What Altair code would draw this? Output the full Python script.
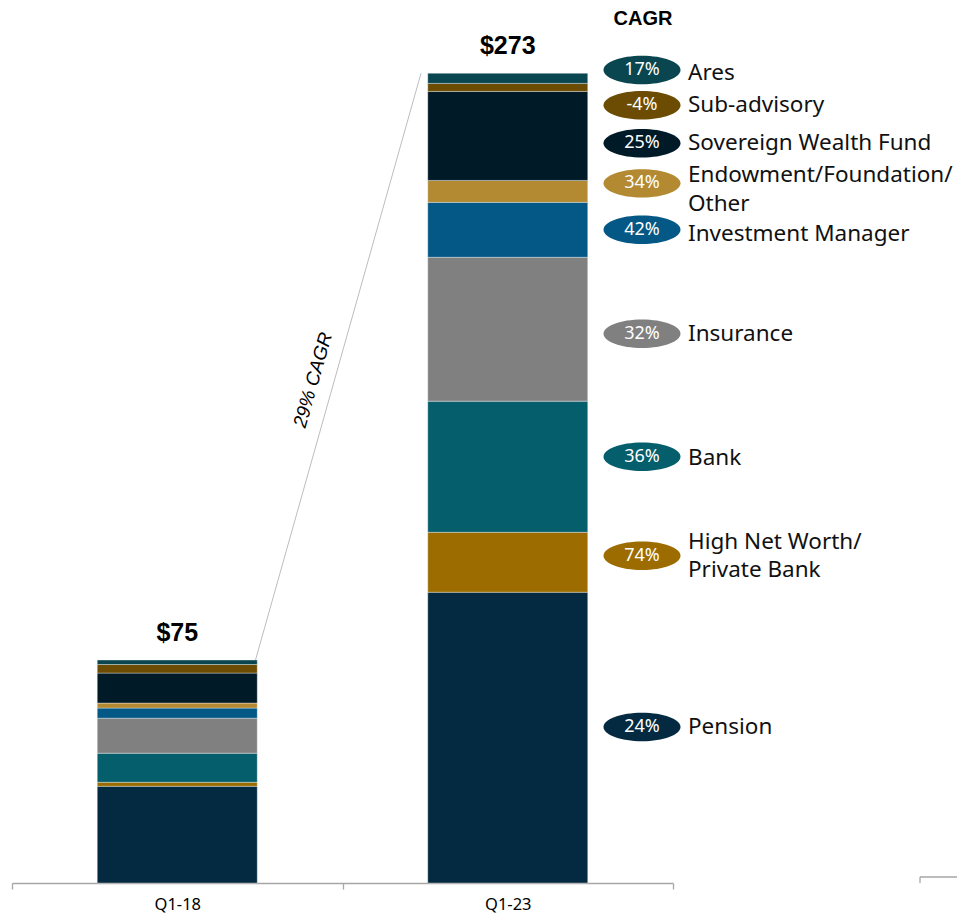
import altair as alt
import pandas as pd

# ---- data ----
periods = ["Q1-18", "Q1-23"]
categories = ["Pension", "High Net Worth/Private Bank", "Bank", "Insurance",
              "Investment Manager", "Endowment/Foundation/Other",
              "Sovereign Wealth Fund", "Sub-advisory", "Ares"]
q1_18 = [32.6, 1.35, 9.8, 11.8, 3.4, 1.7, 10.1, 2.9, 1.5]
q1_23 = [98.0, 20.2, 44.2, 48.5, 18.5, 7.4, 30.0, 2.7, 3.4]
cagr = ["24%", "74%", "36%", "32%", "42%", "34%", "25%", "-4%", "17%"]
legend_text = ["Pension", "High Net Worth/\nPrivate Bank", "Bank", "Insurance",
               "Investment Manager", "Endowment/Foundation/\nOther",
               "Sovereign Wealth Fund", "Sub-advisory", "Ares"]
total_labels = ["$75", "$273"]
overall_cagr = "29% CAGR"
header = "CAGR"

# ---- styling / layout ----
colors = ["#032a40", "#9c6c00", "#055e6b", "#808080", "#035886",
          "#b38932", "#011a27", "#6b4c02", "#0a4650"]
pill_pos = [52.6, 110.3, 143.7, 185.1, 220.2, 235.8, 249.3, 262.1, 274.0]
text_pos = [52.6, 115.0, 143.4, 184.9, 218.9, 238.6, 249.3, 262.1, 272.9]
FONT = "Noto Sans"
ELLIPSE = "M-1,0A1,0.37,0,1,1,1,0A1,0.37,0,1,1,-1,0Z"

rows = []
for p, vals in zip(periods, [q1_18, q1_23]):
    for i, (c, v) in enumerate(zip(categories, vals)):
        rows.append({"period": p, "category": c, "value": v, "idx": i})
df_bars = pd.DataFrame(rows)

df_tot = pd.DataFrame({"period": periods,
                       "total": [sum(q1_18), sum(q1_23)],
                       "label": total_labels})
df_leg = pd.DataFrame({"category": categories, "cagr": cagr, "label": legend_text,
                       "pos": pill_pos, "tpos": text_pos})

xscale = alt.Scale(domain=periods, range=[4, 665], paddingInner=0, paddingOuter=0)
yscale = alt.Scale(domain=[0, 273], range=[875, 65])
cscale = alt.Scale(domain=categories, range=colors)

bars = alt.Chart(df_bars).mark_bar(width=160, stroke="#ffffff", strokeWidth=0.6,
                                   strokeOpacity=0.6).encode(
    x=alt.X("period:N", scale=xscale, sort=periods,
            axis=alt.Axis(title=None, tickBand="extent", domainColor="#a6a6a6",
                          tickColor="#a6a6a6", tickSize=6, domainWidth=1.3,
                          tickWidth=1.3, labelFontSize=16.5, labelFont=FONT,
                          labelColor="#000000", labelPadding=15,
                          labelBaseline="middle", labelAngle=0, grid=False)),
    y=alt.Y("value:Q", stack="zero", scale=yscale, axis=None),
    color=alt.Color("category:N", scale=cscale, legend=None),
    order=alt.Order("idx:Q", sort="ascending"),
)

totals = alt.Chart(df_tot).mark_text(dy=-27, fontSize=25, fontWeight="bold",
                                     font="Liberation Sans", baseline="middle",
                                     color="#000000").encode(
    x=alt.X("period:N", scale=xscale, sort=periods),
    y=alt.Y("total:Q", scale=yscale, axis=None),
    text="label:N",
)

diag = alt.Chart(pd.DataFrame({"a": [sum(q1_18)], "b": [sum(q1_23)]})).mark_rule(
    color="#bdbdbd", strokeWidth=1).encode(
    x=alt.value(247.5), x2=alt.value(413),
    y=alt.Y("a:Q", scale=yscale, axis=None), y2="b:Q",
)

diag_text = alt.Chart(pd.DataFrame({"t": [overall_cagr]})).mark_text(
    angle=286, fontSize=19, font="Liberation Sans", fontStyle="italic",
    color="#000000", baseline="middle", align="center").encode(
    x=alt.value(305), y=alt.value(372), text="t:N")

head = alt.Chart(pd.DataFrame({"t": [header]})).mark_text(
    fontSize=20, font="Liberation Sans", fontWeight="bold", color="#000000",
    baseline="middle", align="center").encode(
    x=alt.value(635), y=alt.value(10.5), text="t:N")

pills = alt.Chart(df_leg).mark_point(shape=ELLIPSE, size=5929, filled=True,
                                     opacity=1, strokeWidth=0).encode(
    x=alt.value(634),
    y=alt.Y("pos:Q", scale=yscale, axis=None),
    color=alt.Color("category:N", scale=cscale, legend=None),
)

pill_text = alt.Chart(df_leg).mark_text(color="white", fontSize=18, font=FONT,
                                        baseline="middle", align="center").encode(
    x=alt.value(634),
    y=alt.Y("pos:Q", scale=yscale, axis=None),
    text="cagr:N",
)

leg_text = alt.Chart(df_leg).mark_text(align="left", baseline="middle", fontSize=22.5,
                                       font=FONT, lineBreak="\n", lineHeight=28.5,
                                       color="#111111").encode(
    x=alt.value(680),
    y=alt.Y("tpos:Q", scale=yscale, axis=None),
    text="label:N",
)

deco = pd.DataFrame({"k": [0]})
corner_h = alt.Chart(deco).mark_rule(color="#a6a6a6", strokeWidth=1.3).encode(
    x=alt.value(912), x2=alt.value(957), y=alt.value(869))
corner_v = alt.Chart(deco).mark_rule(color="#a6a6a6", strokeWidth=1.3).encode(
    x=alt.value(912), y=alt.value(869), y2=alt.value(875))

chart = alt.layer(bars, totals, diag, diag_text, head, pills, pill_text, leg_text,
                  corner_h, corner_v).properties(
    width=949, height=875,
    padding={"left": 0, "top": 0, "right": 0, "bottom": 31},
    autosize=alt.AutoSizeParams(type="none"),
).configure_view(stroke=None)

chart.save("out.html", embed_options={"renderer": "svg", "actions": False})
